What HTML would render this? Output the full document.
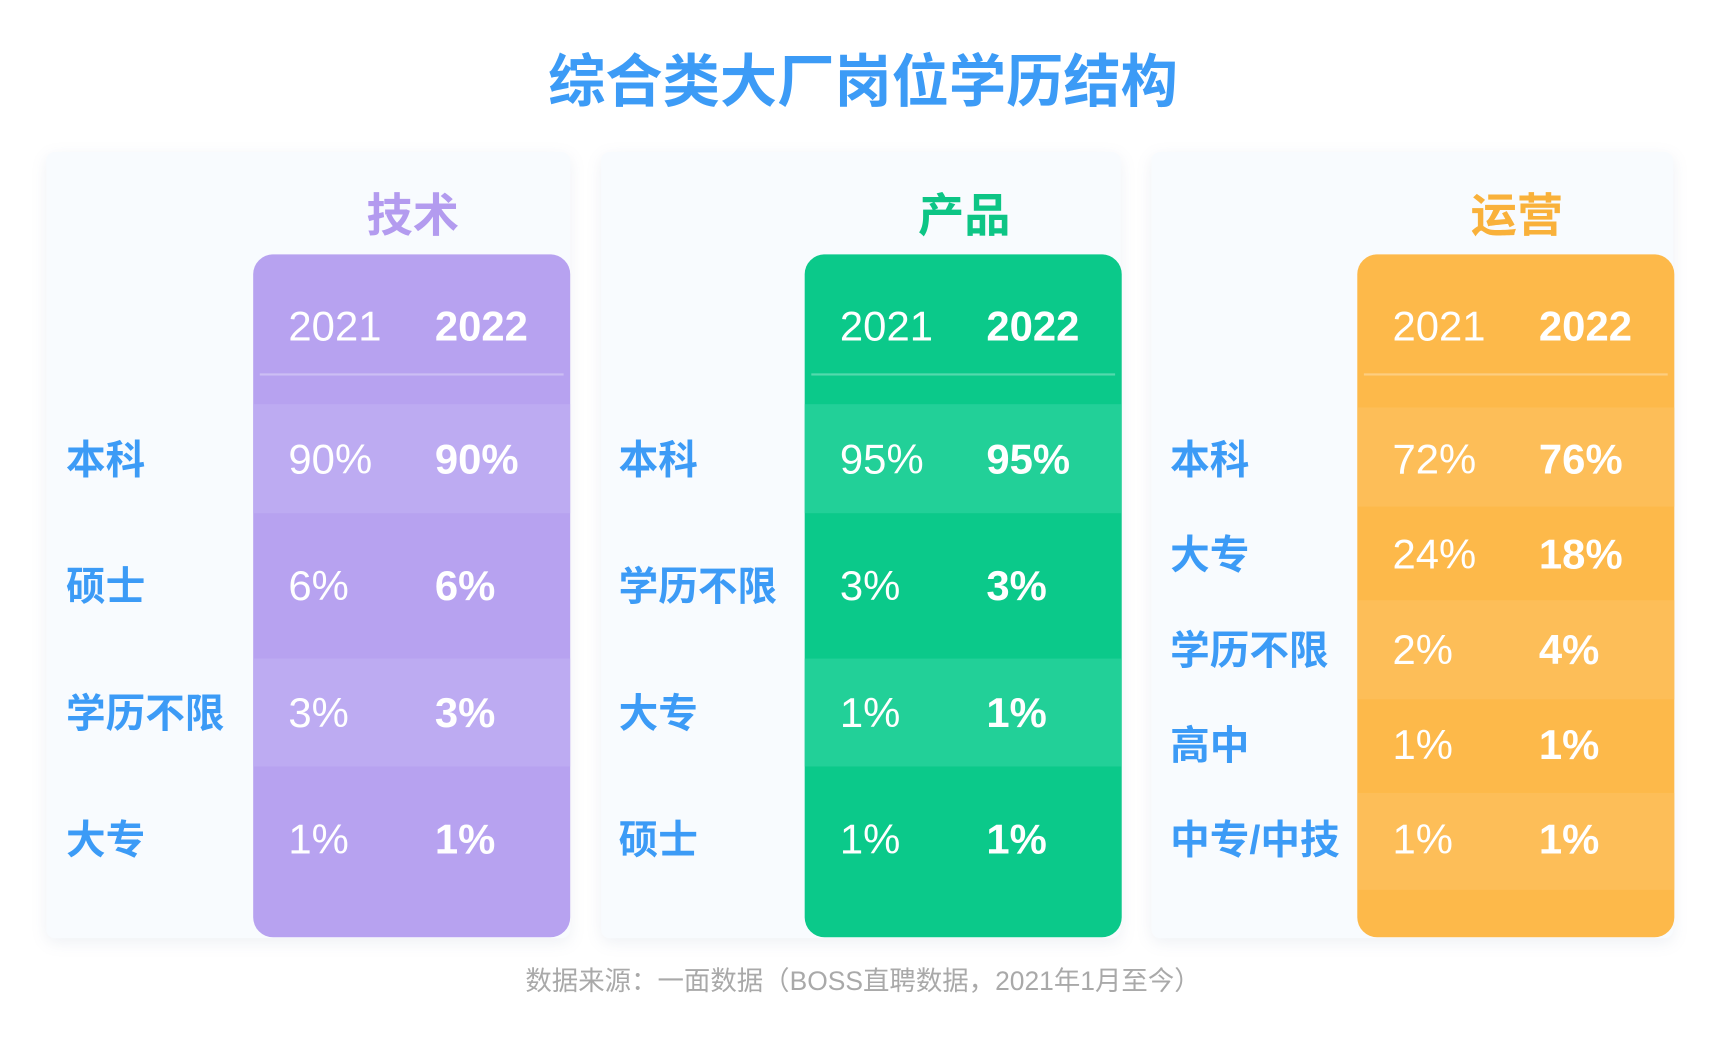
<!DOCTYPE html>
<html><head><meta charset="utf-8"><style>
html,body{margin:0;padding:0;background:#fff;width:1726px;height:1044px;overflow:hidden}
#w{position:absolute;left:0;top:0;width:1568px;height:948px;transform:scale(1.1008,1.1013);transform-origin:0 0;font-family:"Liberation Sans","Noto Sans CJK SC",sans-serif}
.a{position:absolute}
.title{left:0;width:1568px;top:40px;text-align:center;font-size:52px;font-weight:bold;color:#3c9bf6;line-height:70px}
.card{background:#f8fbfe;box-shadow:0 4px 14px rgba(120,140,170,0.12);border-radius:8px;top:138px;height:714px}
.head{font-size:42px;font-weight:bold;line-height:60px;width:300px;text-align:center;top:166px}
.panel{top:231px;height:620px;width:288px;border-radius:18px;overflow:hidden}
.band{position:absolute;left:0;width:288px}
.t{position:absolute;color:#fff;font-size:38px;line-height:50px;white-space:nowrap}
.b{font-weight:bold}
.lab{font-size:36px;font-weight:bold;color:#3c9bf6;line-height:50px;white-space:nowrap}
.line{position:absolute;left:6px;width:276px;top:108px;height:2px;background:rgba(255,255,255,0.3)}
.foot{left:0;width:1568px;top:874px;text-align:center;font-size:24px;color:#a9a9a9;line-height:36px}
</style></head><body><div id="w">
<div class="a title">综合类大厂岗位学历结构</div>

<div class="a card" style="left:42px;width:476px"></div>
<div class="a card" style="left:546px;width:472px"></div>
<div class="a card" style="left:1046px;width:474px"></div>

<div class="a head" style="left:225px;color:#b39bef">技术</div>
<div class="a head" style="left:726px;color:#0dc585">产品</div>
<div class="a head" style="left:1228px;color:#f9b13a">运营</div>

<!-- panel 1 -->
<div class="a panel" style="left:230px;background:#b7a2f0">
<div class="line"></div>
<div class="band" style="top:136px;height:99px;background:#bdabf2"></div>
<div class="band" style="top:367px;height:98px;background:#bdabf2"></div>
<div class="t" style="left:32px;top:41px">2021</div><div class="t b" style="left:165px;top:41px">2022</div>
<div class="t" style="left:32px;top:162px">90%</div><div class="t b" style="left:165px;top:162px">90%</div>
<div class="t" style="left:32px;top:277px">6%</div><div class="t b" style="left:165px;top:277px">6%</div>
<div class="t" style="left:32px;top:392px">3%</div><div class="t b" style="left:165px;top:392px">3%</div>
<div class="t" style="left:32px;top:507px">1%</div><div class="t b" style="left:165px;top:507px">1%</div>
</div>
<div class="a lab" style="left:60px;top:393px">本科</div>
<div class="a lab" style="left:60px;top:508px">硕士</div>
<div class="a lab" style="left:60px;top:623px">学历不限</div>
<div class="a lab" style="left:60px;top:738px">大专</div>

<!-- panel 2 -->
<div class="a panel" style="left:731px;background:#0bc98a">
<div class="line"></div>
<div class="band" style="top:136px;height:99px;background:#22d098"></div>
<div class="band" style="top:367px;height:98px;background:#22d098"></div>
<div class="t" style="left:32px;top:41px">2021</div><div class="t b" style="left:165px;top:41px">2022</div>
<div class="t" style="left:32px;top:162px">95%</div><div class="t b" style="left:165px;top:162px">95%</div>
<div class="t" style="left:32px;top:277px">3%</div><div class="t b" style="left:165px;top:277px">3%</div>
<div class="t" style="left:32px;top:392px">1%</div><div class="t b" style="left:165px;top:392px">1%</div>
<div class="t" style="left:32px;top:507px">1%</div><div class="t b" style="left:165px;top:507px">1%</div>
</div>
<div class="a lab" style="left:562px;top:393px">本科</div>
<div class="a lab" style="left:562px;top:508px">学历不限</div>
<div class="a lab" style="left:562px;top:623px">大专</div>
<div class="a lab" style="left:562px;top:738px">硕士</div>

<!-- panel 3 -->
<div class="a panel" style="left:1233px;background:#fdb94a">
<div class="line"></div>
<div class="band" style="top:139px;height:90px;background:#fdbe58"></div>
<div class="band" style="top:314px;height:90px;background:#fdbe58"></div>
<div class="band" style="top:489px;height:88px;background:#fdbe58"></div>
<div class="t" style="left:32px;top:41px">2021</div><div class="t b" style="left:165px;top:41px">2022</div>
<div class="t" style="left:32px;top:162px">72%</div><div class="t b" style="left:165px;top:162px">76%</div>
<div class="t" style="left:32px;top:248px">24%</div><div class="t b" style="left:165px;top:248px">18%</div>
<div class="t" style="left:32px;top:335px">2%</div><div class="t b" style="left:165px;top:335px">4%</div>
<div class="t" style="left:32px;top:421px">1%</div><div class="t b" style="left:165px;top:421px">1%</div>
<div class="t" style="left:32px;top:507px">1%</div><div class="t b" style="left:165px;top:507px">1%</div>
</div>
<div class="a lab" style="left:1063px;top:393px">本科</div>
<div class="a lab" style="left:1063px;top:479px">大专</div>
<div class="a lab" style="left:1063px;top:566px">学历不限</div>
<div class="a lab" style="left:1063px;top:652px">高中</div>
<div class="a lab" style="left:1063px;top:738px">中专/中技</div>

<div class="a foot">数据来源：一面数据（BOSS直聘数据，2021年1月至今）</div>
</div></body></html>
